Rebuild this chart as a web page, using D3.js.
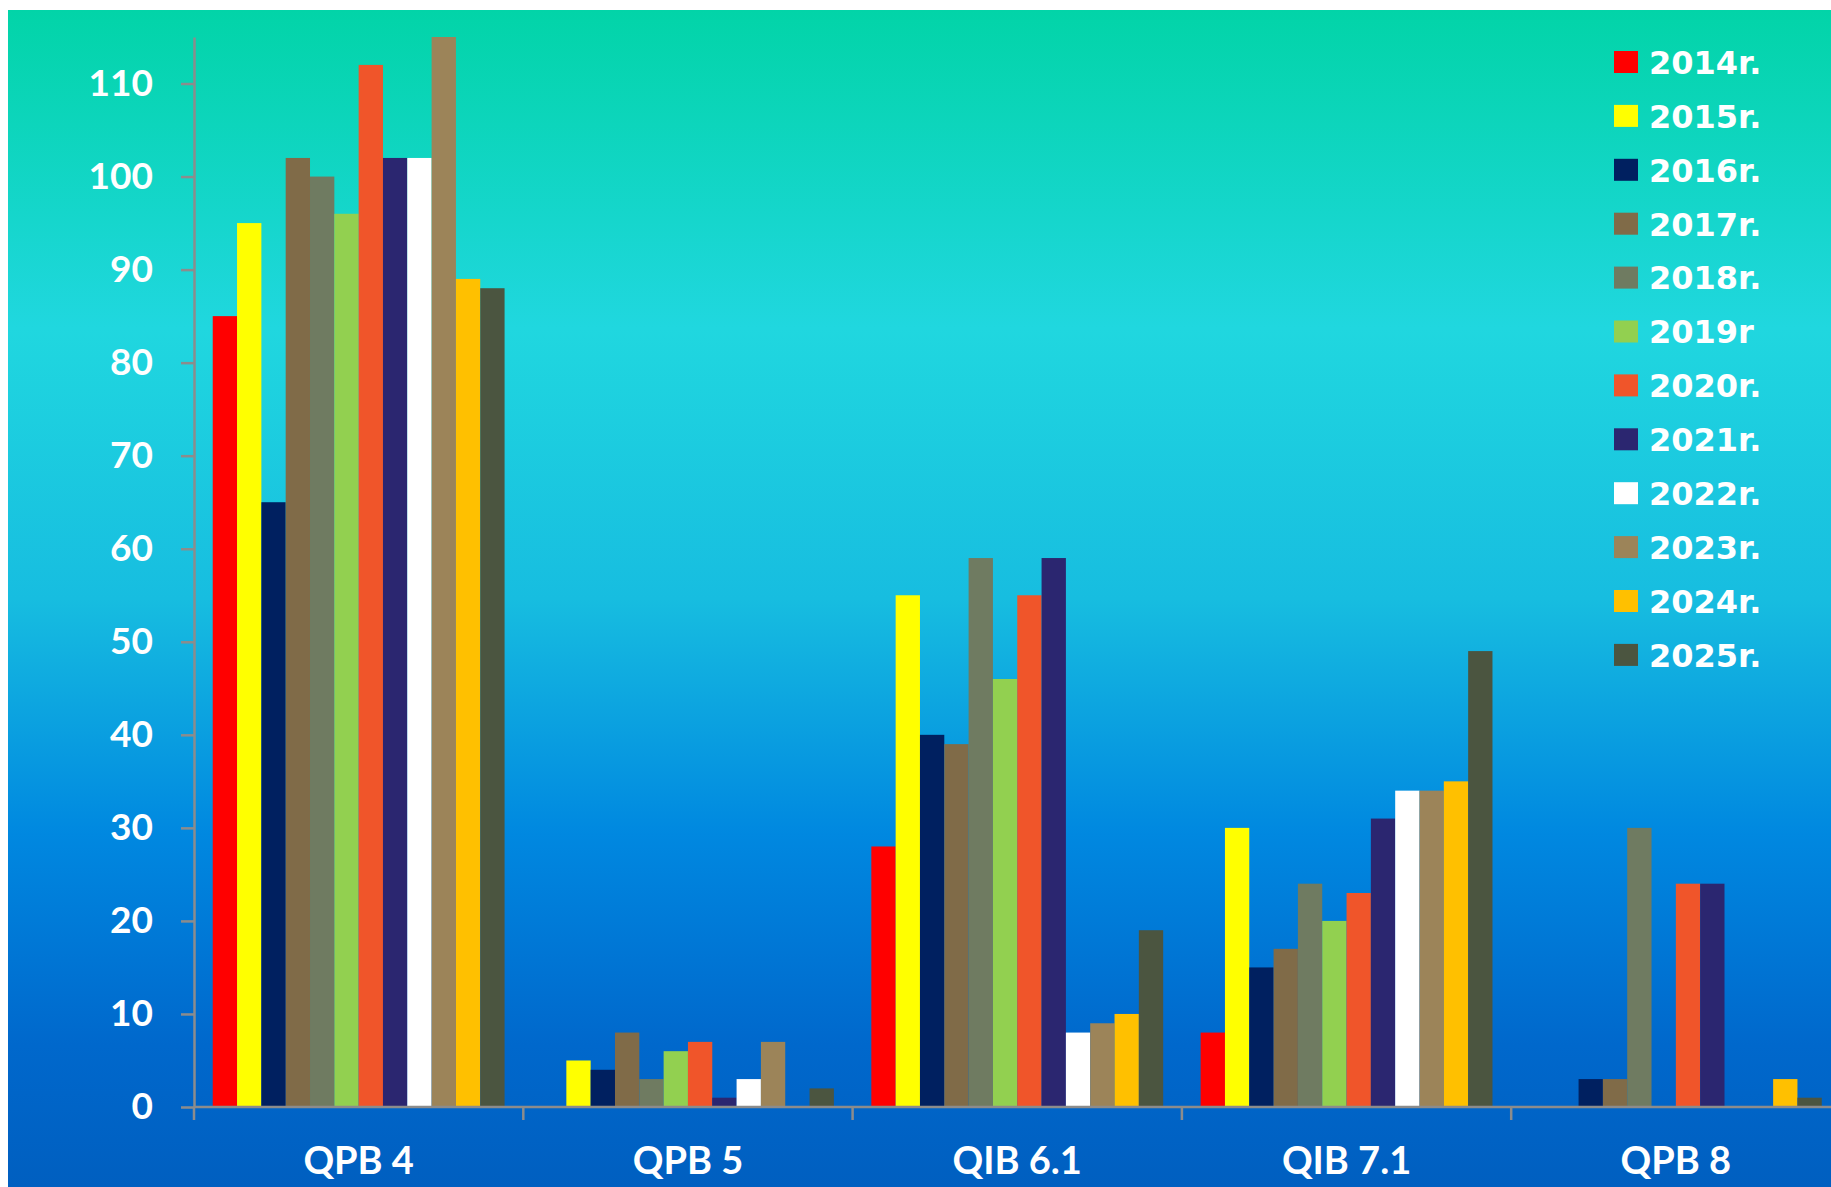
<!DOCTYPE html>
<meta charset="utf-8">
<title>QPB / QIB by year</title>
<style>
  body { margin: 0; background: #fff; }
  svg { display: block; }
</style>
<div id="viz"></div>

<script src="https://cdnjs.cloudflare.com/ajax/libs/d3/7.8.5/d3.min.js"></script>
<script>

var categories = ["QPB 4", "QPB 5", "QIB 6.1", "QIB 7.1", "QPB 8"];
var years = ["2014r.", "2015r.", "2016r.", "2017r.", "2018r.", "2019r",
             "2020r.", "2021r.", "2022r.", "2023r.", "2024r.", "2025r."];
var colors = ["#ff0000", "#ffff00", "#002060", "#806b48", "#6f7b61", "#92d050",
              "#f0552a", "#2b2670", "#ffffff", "#9c8459", "#ffc000", "#4b5540"];

// one array per year, values in category order
var v2014 = [85, 0, 28, 8, 0];
var v2015 = [95, 5, 55, 30, 0];
var v2016 = [65, 4, 40, 15, 3];
var v2017 = [102, 8, 39, 17, 3];
var v2018 = [100, 3, 59, 24, 30];
var v2019 = [96, 6, 46, 20, 0];
var v2020 = [112, 7, 55, 23, 24];
var v2021 = [102, 1, 59, 31, 24];
var v2022 = [102, 3, 8, 34, 0];
var v2023 = [115, 7, 9, 34, 0];
var v2024 = [89, 0, 10, 35, 3];
var v2025 = [88, 2, 19, 49, 1];

var yTicks = [0, 10, 20, 30, 40, 50, 60, 70, 80, 90, 100, 110];

var series = [v2014, v2015, v2016, v2017, v2018, v2019,
              v2020, v2021, v2022, v2023, v2024, v2025];

var width = 1831;
var height = 1187;
var plotLeft = 194, plotTop = 37, plotBottom = 1107;
var band = 329.3;

var svg = d3.select("#viz")
  .append("svg")
  .attr("width", width)
  .attr("height", height);

// background gradient
var grad = svg.append("defs").append("linearGradient")
  .attr("id", "bg")
  .attr("x1", 0).attr("y1", 0).attr("x2", 0).attr("y2", 1);
[[0, "#02d4a8"], [0.27, "#20d7df"], [0.5, "#17bde0"],
 [0.7, "#0088e0"], [0.88, "#0068cc"], [1, "#005fc0"]].forEach(function(s) {
  grad.append("stop").attr("offset", s[0]).attr("stop-color", s[1]);
});

svg.append("rect")
  .attr("x", 8).attr("y", 10)
  .attr("width", width - 8).attr("height", height - 10)
  .attr("fill", "url(#bg)");

var x0 = d3.scaleBand()
  .domain(categories)
  .range([plotLeft, plotLeft + band * categories.length])
  .padding(0);

var x1 = d3.scaleBand()
  .domain(years)
  .range([0, x0.bandwidth()])
  .paddingInner(0)
  .paddingOuter(0.77);

var y = d3.scaleLinear()
  .domain([0, 115])
  .range([plotBottom, plotTop]);

// bars
var groups = svg.selectAll("g.cat")
  .data(categories)
  .enter().append("g")
  .attr("class", "cat")
  .attr("transform", function(d) { return "translate(" + x0(d) + ",0)"; });

groups.selectAll("rect")
  .data(function(d, ci) {
    return years.map(function(yr, i) { return {year: yr, value: series[i][ci], color: colors[i]}; })
      .filter(function(b) { return b.value > 0; });
  })
  .enter().append("rect")
  .attr("x", function(d) { return x1(d.year); })
  .attr("y", function(d) { return y(d.value); })
  .attr("width", x1.bandwidth())
  .attr("height", function(d) { return plotBottom - y(d.value); })
  .attr("fill", function(d) { return d.color; });

// y axis
var yAxis = svg.append("g")
  .attr("transform", "translate(" + plotLeft + ",0)")
  .call(d3.axisLeft(y).tickValues(yTicks).tickSize(13).tickSizeOuter(0).tickPadding(28));

yAxis.select(".domain").attr("stroke", "#8c8c8c").attr("stroke-width", 2.5);
yAxis.selectAll(".tick line").attr("stroke", "#8c8c8c").attr("stroke-width", 2.5);
yAxis.selectAll(".tick text")
  .attr("fill", "#fff")
  .style("font-family", "Lato, 'Open Sans', sans-serif")
  .style("font-weight", "bold")
  .style("font-size", "37px");

// x axis
var xAxis = svg.append("g")
  .attr("transform", "translate(0," + plotBottom + ")")
  .call(d3.axisBottom(x0).tickSize(0).tickPadding(40));

xAxis.select(".domain")
  .attr("d", "M" + plotLeft + ",0H" + width)
  .attr("stroke", "#8c8c8c").attr("stroke-width", 2.5);
xAxis.selectAll(".tick text")
  .attr("fill", "#fff")
  .style("font-family", "Lato, 'Open Sans', sans-serif")
  .style("font-weight", "bold")
  .style("font-size", "38px");

// category boundary ticks
xAxis.selectAll("line.sep")
  .data(categories)
  .enter().append("line")
  .attr("class", "sep")
  .attr("x1", function(d) { return x0(d); })
  .attr("x2", function(d) { return x0(d); })
  .attr("y1", 0).attr("y2", 13)
  .attr("stroke", "#8c8c8c").attr("stroke-width", 2.5);

// legend
var legend = svg.append("g")
  .attr("transform", "translate(1614,62)");

var item = legend.selectAll("g")
  .data(years)
  .enter().append("g")
  .attr("transform", function(d, i) { return "translate(0," + (i * 53.9) + ")"; });

item.append("rect")
  .attr("x", 0).attr("y", -11)
  .attr("width", 24).attr("height", 22)
  .attr("fill", function(d, i) { return colors[i]; });

item.append("text")
  .attr("x", 35)
  .attr("dy", "0.37em")
  .attr("fill", "#fff")
  .style("font-family", "'DejaVu Sans', sans-serif")
  .style("font-weight", "bold")
  .style("font-size", "32px")
  .text(function(d) { return d; });

</script>
